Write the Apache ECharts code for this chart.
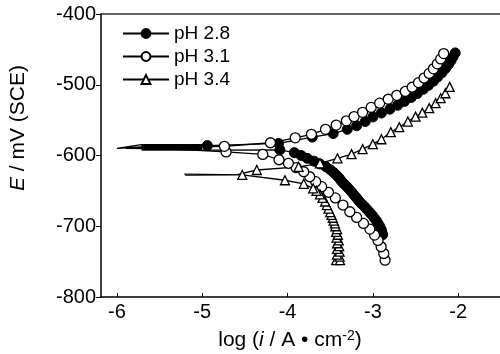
<!DOCTYPE html>
<html>
<head>
<meta charset="utf-8">
<script src="https://cdn.jsdelivr.net/npm/echarts@6/dist/echarts.min.js"></script>
<style>
html,body{margin:0;padding:0;background:#fff;}
#chart{width:500px;height:354px;}
</style>
</head>
<body>
<div id="chart"></div>
<script>
// ---------- data (log i in A/cm2, E in mV vs SCE) ----------
const seriesNames = ['pH 2.8', 'pH 3.1', 'pH 3.4'];
const xTickValues = [-6, -5, -4, -3, -2];
const yTickValues = [-800, -700, -600, -500, -400];

// pH 2.8 – cathodic branch (bottom -> Ecorr)
const ph28CathLogI = [-2.885,-2.895,-2.905,-2.92,-2.94,-2.96,-2.985,-3.01,-3.04,-3.07,-3.10,-3.135,-3.165,-3.19,-3.22,-3.245,-3.275,-3.305,-3.34,-3.37,-3.395,-3.425,-3.46,-3.50,-3.55,-3.62,-3.69,-3.77,-3.84,-3.92,-4.09];
const ph28CathE    = [-712,-708,-704,-700,-696,-692,-688,-684,-680,-676,-672,-668,-664,-660,-656,-652,-648,-644,-640,-636,-632,-628,-624,-620,-616,-612,-608,-604,-600,-596,-592];
// pH 2.8 – excursion near Ecorr (no markers)
const ph28EcorrLogI = [-4.95,-5.71,-5.0,-5.71,-5.0,-5.71,-5.0,-5.71,-5.0,-5.71,-5.0,-5.71,-5.0,-5.71,-5.0,-5.71,-6.0,-5.71];
const ph28EcorrE    = [-592.5,-592.3,-591.8,-591.2,-590.6,-590,-589.4,-588.8,-588.2,-587.6,-587,-586.4,-585.8,-585.2,-584.8,-584.5,-590,-588];
// pH 2.8 – anodic branch (Ecorr -> top)
const ph28AnodLogI = [-4.94,-4.105,-3.71,-3.465,-3.30,-3.19,-3.09,-3.00,-2.90,-2.80,-2.71,-2.63,-2.55,-2.48,-2.41,-2.35,-2.29,-2.24,-2.19,-2.15,-2.115,-2.085,-2.06,-2.035];
const ph28AnodE    = [-586,-583,-574,-569,-563,-558,-552,-545.5,-540,-534.5,-529,-523.5,-518,-512.5,-506.5,-501,-495,-489,-483,-477,-471.5,-466,-460.5,-455];

// pH 3.1
const ph31CathLogI = [-2.857,-2.872,-2.903,-2.94,-2.98,-3.035,-3.11,-3.19,-3.27,-3.35,-3.44,-3.52,-3.60,-3.67,-3.74,-3.81,-3.90,-3.99,-4.10,-4.29,-4.72];
const ph31CathE    = [-748,-738.5,-729,-720,-712.5,-704,-696,-687.5,-679.5,-670,-660,-652,-644,-637,-630,-623,-617,-611,-606,-598.5,-595];
const ph31EcorrLogI = [-5.4,-5.9,-5.5];
const ph31EcorrE    = [-590.5,-590,-589.5];
const ph31AnodLogI = [-4.74,-4.20,-3.91,-3.72,-3.555,-3.43,-3.31,-3.22,-3.12,-3.02,-2.92,-2.82,-2.72,-2.62,-2.54,-2.465,-2.40,-2.34,-2.29,-2.245,-2.205,-2.17];
const ph31AnodE    = [-587,-582,-575,-570,-563,-557,-551,-545,-539,-532,-526,-520.5,-515,-509.5,-503.5,-497,-490.5,-484,-477.5,-470.5,-463.5,-456];

// pH 3.4
const ph34CathLogI = [-3.43,-3.385,-3.39,-3.42,-3.39,-3.42,-3.395,-3.42,-3.40,-3.425,-3.41,-3.43,-3.42,-3.44,-3.445,-3.46,-3.47,-3.485,-3.50,-3.52,-3.54,-3.56,-3.59,-3.62,-3.66,-3.70,-3.81,-4.03,-4.53];
const ph34CathE    = [-748,-748,-743,-740,-736,-732,-728,-724,-720,-716,-712,-708,-704,-700,-696,-692,-688,-684,-680,-675,-670,-665,-660,-655,-650,-646.5,-640,-635,-627.5];
const ph34EcorrLogI = [-5.21,-4.8,-5.2,-4.6];
const ph34EcorrE    = [-626.3,-627,-627.8,-627.5];
const ph34AnodLogI = [-4.36,-3.87,-3.62,-3.415,-3.25,-3.12,-3.00,-2.90,-2.79,-2.69,-2.59,-2.50,-2.42,-2.34,-2.265,-2.205,-2.15,-2.10];
const ph34AnodE    = [-620.5,-616,-611,-604,-598,-591,-584,-577,-567,-560,-552,-545,-539.5,-533,-526,-519,-512,-503];

// ---------- build series data ----------
function pts(xs, ys, marker) {
  return xs.map((x, i) => marker ? [x, ys[i]] : { value: [x, ys[i]], symbol: 'none' });
}
function build(cx, cy, ex, ey, ax, ay) {
  return [].concat(pts(cx, cy, true), pts(ex, ey, false), pts(ax, ay, true));
}
const d28 = build(ph28CathLogI, ph28CathE, ph28EcorrLogI, ph28EcorrE, ph28AnodLogI, ph28AnodE);
const d31 = build(ph31CathLogI, ph31CathE, ph31EcorrLogI, ph31EcorrE, ph31AnodLogI, ph31AnodE);
const d34 = build(ph34CathLogI, ph34CathE, ph34EcorrLogI, ph34EcorrE, ph34AnodLogI, ph34AnodE);

const FONT = "'Liberation Sans', Arial, Helvetica, sans-serif";
const chart = echarts.init(document.getElementById('chart'), null, { renderer: 'canvas' });

const lineStyle = { color: '#000', width: 1.3 };
const X_MIN = -6.186, X_MAX = -1.51;
chart.setOption({
  animation: false,
  backgroundColor: '#fff',
  grid: { left: 101, right: 0, top: 14, bottom: 57, show: false, containLabel: false },
  xAxis: [
    {
      type: 'value', min: X_MIN, max: X_MAX, position: 'bottom',
      axisLine: { show: true, lineStyle: { color: '#000', width: 1.5 } },
      axisTick: { show: true, inside: true, length: 4, lineStyle: { color: '#000' }, customValues: xTickValues },
      axisLabel: { color: '#000', fontSize: 20, fontFamily: FONT, margin: 5, customValues: xTickValues },
      splitLine: { show: false }
    },
    {
      type: 'value', min: X_MIN, max: X_MAX, position: 'top',
      axisLine: { show: true, lineStyle: { color: '#333', width: 1.5 } },
      axisTick: { show: false }, axisLabel: { show: false }, splitLine: { show: false }
    }
  ],
  yAxis: {
    type: 'value', min: -800, max: -400, interval: 100,
    axisLine: { show: true, lineStyle: { color: '#000', width: 1.5 } },
    axisTick: { show: true, inside: false, length: 5, lineStyle: { color: '#000' } },
    axisLabel: { color: '#000', fontSize: 20, fontFamily: FONT, margin: 5 },
    splitLine: { show: false }
  },
  legend: {
    left: 117, top: 19, orient: 'vertical',
    itemWidth: 46, itemHeight: 11, itemGap: 4,
    textStyle: { color: '#000', fontSize: 19, fontFamily: FONT },
    data: seriesNames
  },
  graphic: [
    {
      type: 'text', x: 290, y: 340,
      style: {
        text: '{n|log (}{i|i}{n| / A • cm}{s|-2}{n|)}',
        align: 'center', verticalAlign: 'middle', fill: '#000',
        rich: {
          n: { fontSize: 21, fontFamily: FONT, fill: '#000' },
          i: { fontSize: 21, fontFamily: FONT, fontStyle: 'italic', fill: '#000' },
          s: { fontSize: 14, fontFamily: FONT, fill: '#000', verticalAlign: 'top' }
        }
      }
    },
    {
      type: 'text', x: 18, y: 128, rotation: Math.PI / 2,
      style: {
        text: '{i|E}{n| / mV (SCE)}',
        align: 'center', verticalAlign: 'middle', fill: '#000',
        rich: {
          n: { fontSize: 21, fontFamily: FONT, fill: '#000' },
          i: { fontSize: 21, fontFamily: FONT, fontStyle: 'italic', fill: '#000' }
        }
      }
    }
  ],
  series: [
    {
      name: seriesNames[0], type: 'line', data: d28, xAxisIndex: 0,
      symbol: 'circle', symbolSize: 10, showAllSymbol: true,
      itemStyle: { color: '#000', borderColor: '#000', borderWidth: 1 },
      lineStyle: lineStyle
    },
    {
      name: seriesNames[1], type: 'line', data: d31, xAxisIndex: 0,
      symbol: 'circle', symbolSize: 10, showAllSymbol: true,
      itemStyle: { color: '#fff', borderColor: '#000', borderWidth: 1.3 },
      lineStyle: lineStyle
    },
    {
      name: seriesNames[2], type: 'line', data: d34, xAxisIndex: 0,
      symbol: 'triangle', symbolSize: 9, showAllSymbol: true,
      itemStyle: { color: '#fff', borderColor: '#000', borderWidth: 1.3 },
      lineStyle: lineStyle
    }
  ]
});
</script>
</body>
</html>
